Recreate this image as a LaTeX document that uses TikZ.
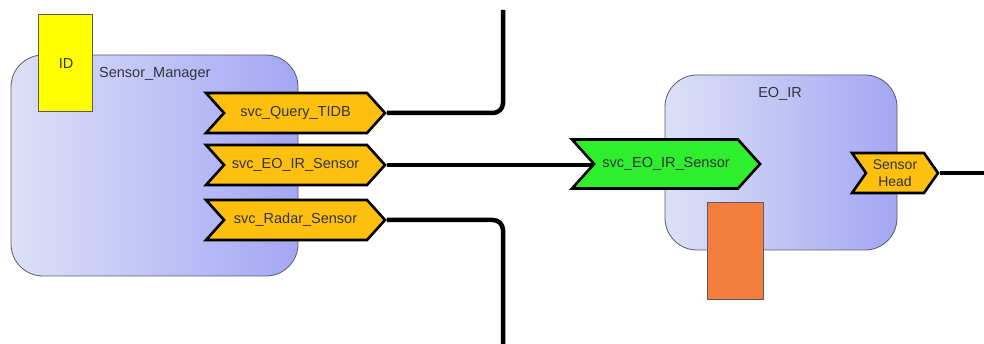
\documentclass[tikz,border=0pt]{standalone}
\usepackage{fontspec}
\setmainfont{Liberation Sans}
\usetikzlibrary{shapes.symbols}
\definecolor{compleft}{HTML}{DDE0F6}
\definecolor{compright}{HTML}{A3A7F4}
\definecolor{compedge}{HTML}{5A5A6A}
\definecolor{portgold}{HTML}{FDC00F}
\definecolor{portgreen}{HTML}{2EEE2E}
\definecolor{tagorange}{HTML}{F47E3E}
\definecolor{idyellow}{HTML}{FFFF00}
\definecolor{labelgray}{HTML}{333340}
\tikzset{
  component/.style={draw=compedge, line width=0.8pt, rounded corners=32pt,
    shading=axis, left color=compleft, right color=compright},
  port/.style={signal, signal from=west, signal to=east, signal pointer angle=96,
    draw=black, line width=2.6pt, fill=portgold, inner sep=0pt,
    minimum height=40pt, text=labelgray, font=\fontsize{14.5}{17}\selectfont},
  wire/.style={line width=4.5pt, rounded corners=10pt},
  lbl/.style={text=labelgray, font=\fontsize{14.5}{17}\selectfont, inner sep=0pt},
  tagbox/.style={draw=compedge, line width=0.8pt, inner sep=0pt}
}
\begin{document}
\begin{tikzpicture}[x=1pt, y=-1pt]
  \useasboundingbox (0,0) rectangle (984,344);

  % Sensor_Manager component
  \draw[component] (11,55) rectangle (298,276);
  \node[tagbox, fill=idyellow, minimum width=54pt, minimum height=97pt] (id) at (65,62.5) {};
  \node[lbl] (idtext) at (66,64) {ID};
  \node[lbl, anchor=west] (smname) at (99,74) {Sensor\_Manager};

  % EO_IR component
  \draw[component] (665,75) rectangle (897,250);
  \node[lbl] (eoname) at (780,94) {EO\_IR};
  \node[tagbox, fill=tagorange, minimum width=56pt, minimum height=97pt] (tag) at (735,250.5) {};

  % free wire ends
  \coordinate (topend) at (503,10);
  \coordinate (botend) at (503,344);
  \coordinate (rightend) at (984,173);

  % ports
  \node[port, minimum width=179pt] (query) at (295.5,113) {svc\_Query\_TIDB};
  \node[port, minimum width=179pt] (eoout) at (295.5,165) {svc\_EO\_IR\_Sensor};
  \node[port, minimum width=179pt] (radar) at (295.5,220) {svc\_Radar\_Sensor};
  \node[port, fill=portgreen, minimum width=188pt, minimum height=49pt] (eoin) at (666,164) {svc\_EO\_IR\_Sensor};
  \node[port, signal pointer angle=110, minimum width=86pt, align=center,
        font=\fontsize{14}{17}\selectfont] (head) at (895,173) {Sensor\\Head};

  % connectors
  \draw[wire] (query.east) -- (503,113) -- (topend);
  \draw[wire] (radar.east) -- (503,220) -- (botend);
  \draw[wire] (eoout.east) -- (eoout.east -| eoin.west);
  \draw[wire] (head.east) -- (rightend);
\end{tikzpicture}
\end{document}
